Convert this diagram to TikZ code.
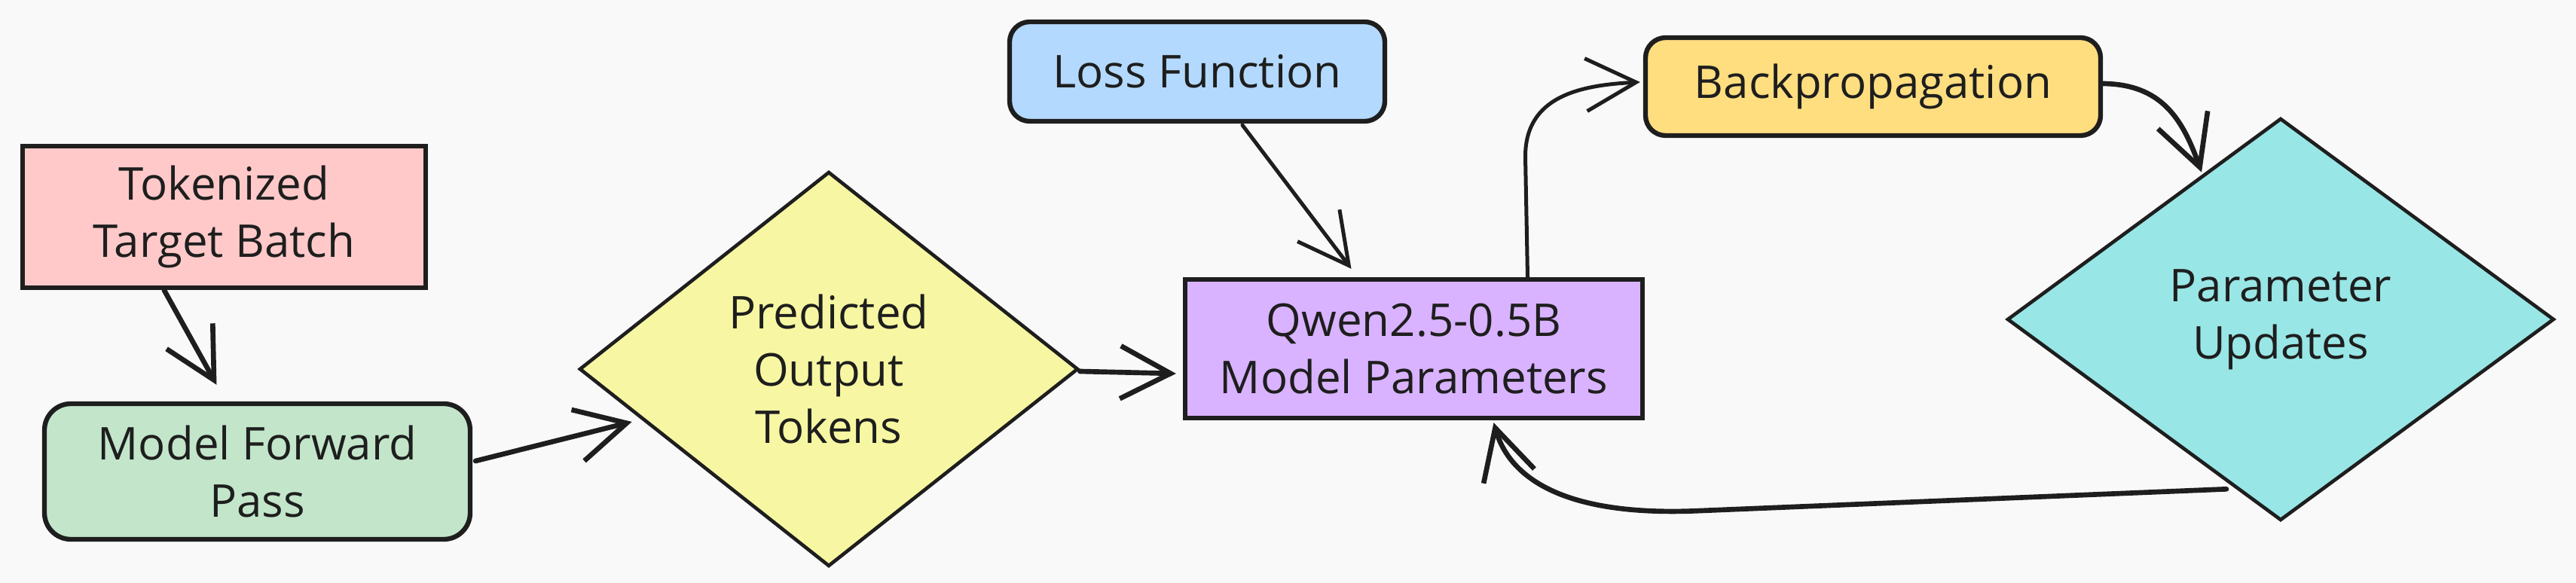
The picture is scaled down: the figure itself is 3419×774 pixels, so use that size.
\documentclass[tikz,border=0pt]{standalone}
\usepackage{fontspec}
\setmainfont{Open Sans}
\usetikzlibrary{shapes.geometric,arrows.meta,calc}
\definecolor{ink}{HTML}{1E1E1E}
\definecolor{bgc}{HTML}{F9F9F9}
\definecolor{cpink}{HTML}{FFC9C9}
\definecolor{cgreen}{HTML}{C3E6CB}
\definecolor{cyellow}{HTML}{F7F7A3}
\definecolor{cpurple}{HTML}{D9B3FF}
\definecolor{cblue}{HTML}{B3D9FF}
\definecolor{corange}{HTML}{FFDE80}
\definecolor{ccyan}{HTML}{99E6E6}
\begin{document}
\begin{tikzpicture}[x=0.3pt,y=-0.3pt,
  box/.style={draw=ink, line width=1.9pt, align=center, text=ink,
    font=\fontsize{18pt}{22.8pt}\selectfont, inner sep=0pt},
  rbox/.style={box, rounded corners=#1},
  dia/.style={box, shape=diamond, line width=1.4pt},
  arr/.style={draw=ink, line width=2pt, line cap=round, line join=round,
    -{Straight Barb[length=20pt,width=21pt]}},
  thinarr/.style={arr, line width=1.5pt}]
\fill[bgc] (0,0) rectangle (3419,774);
\useasboundingbox (0,0) rectangle (3419,774);

\node[box, fill=cpink, minimum width=160.5pt, minimum height=56.4pt] (tok) at (297.5,288) {Tokenized\\Target Batch};
\node[rbox=10.5pt, fill=cgreen, minimum width=169.5pt, minimum height=54pt] (fwd) at (341.5,626) {Model Forward\\Pass};
\node[dia, fill=cyellow, minimum width=198.6pt, minimum height=157.2pt] (pred) at (1100,490) {Predicted\\Output\\Tokens};
\node[box, fill=cpurple, minimum width=182.1pt, minimum height=55.2pt] (qwen) at (1876.5,463) {Qwen2.5-0.5B\\Model Parameters};
\node[rbox=8pt, fill=cblue, minimum width=149.4pt, minimum height=39.6pt] (loss) at (1589,95) {Loss Function};
\node[rbox=8pt, fill=corange, minimum width=181.2pt, minimum height=39pt] (back) at (2486,115) {Backpropagation};
\node[dia, fill=ccyan, minimum width=217.8pt, minimum height=160.2pt] (upd) at (3027,424) {Parameter\\Updates};

\draw[arr] ($(tok.south west)+(191,0)$) -- ($(fwd.north)+(-54,-22)$);
\draw[arr] ($(fwd.east)+(4,-14)$) -- ($(pred.west)+(72,70)$);
\draw[arr] ($(pred.east)+(0,3)$) -- ($(qwen.west)+(-9,33)$);
\draw[thinarr] ($(loss.south)+(60,2)$) -- ($(qwen.north)+(-83,-11)$);
\draw[thinarr] ($(qwen.north)+(151,0)$) -- ++(-3,-160) .. controls +(0,-80) and +(-80,4) .. ($(back.west)+(-4,-6)$);
\draw[arr] ($(back.east)+(-2,-4)$) .. controls +(80,0) and +(-25,-70) .. ($(upd.north)+(-105,74)$);
\draw[arr] ($(upd.south)+(-72,-44)$) -- ++(-705,29) .. controls +(-180,7) and +(20,70) .. ($(qwen.south)+(106,3)$);
\end{tikzpicture}
\end{document}
